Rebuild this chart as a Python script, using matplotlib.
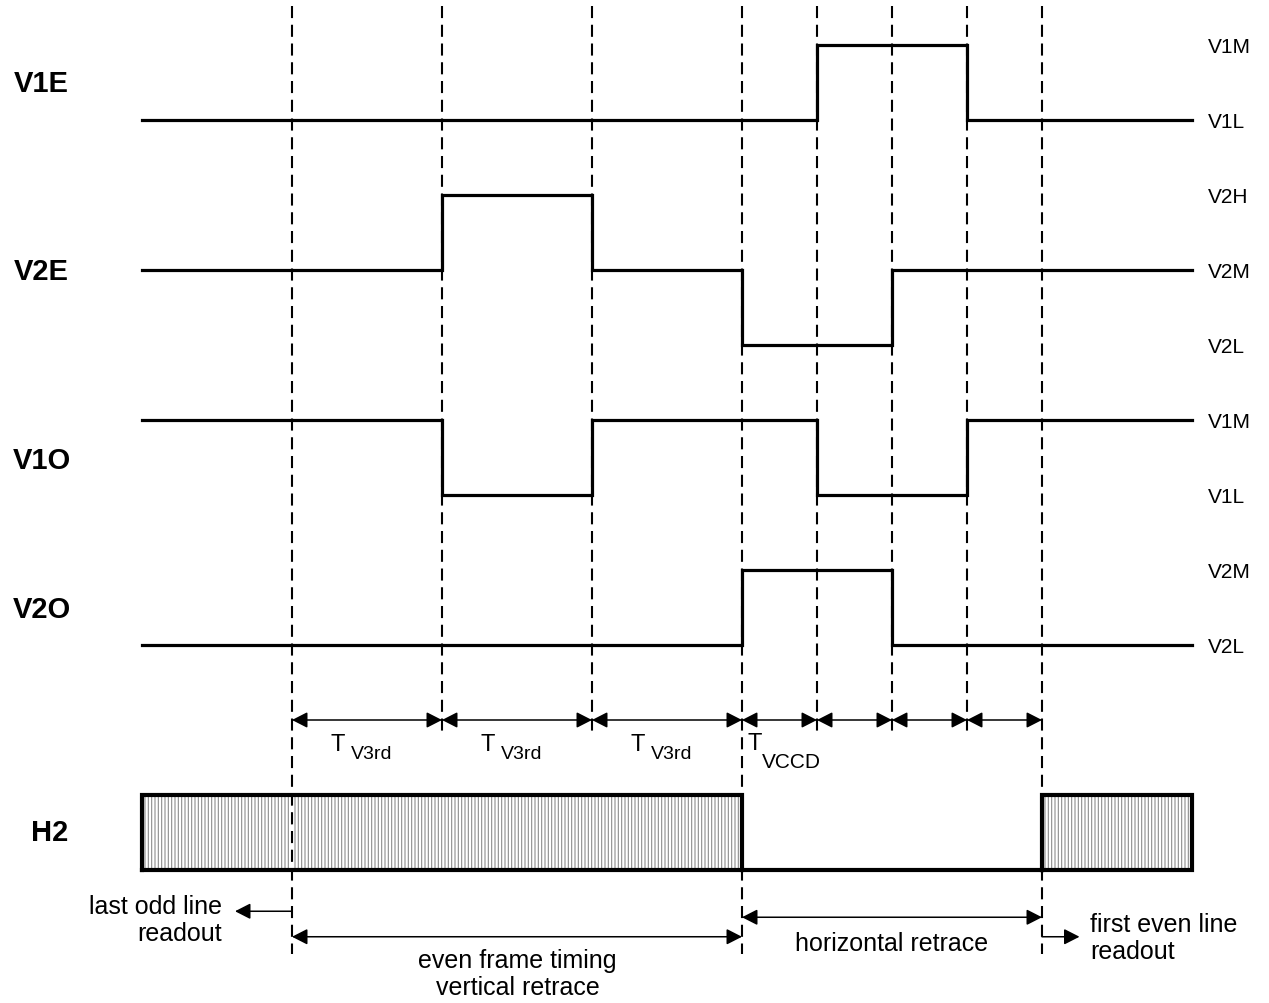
import matplotlib.pyplot as plt
from matplotlib.patches import Rectangle

plt.rcParams["font.family"] = ["Liberation Sans", "DejaVu Sans"]
plt.rcParams["hatch.linewidth"] = 0.8
plt.rcParams["hatch.color"] = "#8c8c8c"

# Time axis: one unit = T_VCCD, T_V3rd = 2 units; edges of the retrace sequence
edges = [0, 2, 4, 6, 7, 8, 9, 10]
long_edges = [0, 6, 10]          # marks that run down through the H2 row
t_start, t_end = -2, 12

# Voltage levels as row indices (top to bottom)
level_names = ["V1M", "V1L", "V2H", "V2M", "V2L", "V1M", "V1L", "V2M", "V2L"]

# Waveforms: breakpoints and the level held between them
v1e_t = [-2, 7, 9, 12]
v1e_v = [1, 0, 1]
v2e_t = [-2, 2, 4, 6, 8, 12]
v2e_v = [3, 2, 3, 4, 3]
v1o_t = [-2, 2, 4, 7, 9, 12]
v1o_v = [5, 6, 5, 6, 5]
v2o_t = [-2, 6, 8, 12]
v2o_v = [8, 7, 8]

signals = [("V1E", v1e_t, v1e_v, 0.51), ("V2E", v2e_t, v2e_v, 3.02),
           ("V1O", v1o_t, v1o_v, 5.53), ("V2O", v2o_t, v2o_v, 7.52)]

# H2 clock: active (hatched) intervals and idle interval
h2_active = [(-2, 6), (10, 12)]
h2_idle = (6, 10)
h2_top, h2_bottom = 10.0, 11.0

period_labels = [("T", "V3rd"), ("T", "V3rd"), ("T", "V3rd"), ("T", "VCCD")]

fig = plt.figure(figsize=(12.69, 10.04), dpi=100)
ax = fig.add_axes([0, 0, 1, 1])
ax.set_xlim(-292 / 75, (1269 - 292) / 75)
ax.set_ylim((1004 - 46) / 75, -46 / 75)
ax.axis("off")

# dashed timing marks
for t in edges:
    bottom = 12.12 if t in long_edges else 9.15
    ax.plot([t, t], [-0.52, bottom], color="black", lw=1.5,
            dashes=(5.8, 3.2), gapcolor="white", zorder=2.5)

# waveforms
for name, ts, vs, ylab in signals:
    xs, ys = [], []
    for i, v in enumerate(vs):
        xs += [ts[i], ts[i + 1]]
        ys += [v, v]
    ax.plot(xs, ys, color="black", lw=2.3, solid_joinstyle="miter", zorder=3)
    ax.text(-3.34, ylab, name, ha="center", va="center", fontsize=21,
            fontweight="bold")

for k, name in enumerate(level_names):
    ax.text(12.21, k + 0.02, name, ha="left", va="center", fontsize=15)

# H2 hatched blocks
for a, b in h2_active:
    ax.add_patch(Rectangle((a, h2_top), b - a, h2_bottom - h2_top,
                           facecolor="white", edgecolor="#8c8c8c",
                           hatch="|||||", lw=0, zorder=2))
    ax.plot([a, a, b, b, a], [h2_bottom, h2_top, h2_top, h2_bottom, h2_bottom],
            color="black", lw=3, solid_joinstyle="miter", zorder=3)
ax.plot(list(h2_idle), [h2_bottom, h2_bottom], color="black", lw=3, zorder=3)
ax.text(-3.23, 10.49, "H2", ha="center", va="center", fontsize=21,
        fontweight="bold")

arrow = dict(arrowstyle="<|-|>,head_length=0.47,head_width=0.24",
             color="black", lw=1.1, mutation_scale=20, shrinkA=0, shrinkB=0)
one_way = dict(arrowstyle="-|>,head_length=0.47,head_width=0.24",
               color="black", lw=1.1, mutation_scale=20, shrinkA=0, shrinkB=0)

# period arrows
for a, b in zip(edges[:-1], edges[1:]):
    ax.annotate("", xy=(b, 9.0), xytext=(a, 9.0), arrowprops=arrow)
for a, (big, sub) in zip(edges, period_labels):
    if sub == "VCCD":
        ax.text(a + 0.07, 9.3, big, ha="left", va="center", fontsize=17)
        ax.text(a + 0.26, 9.56, sub, ha="left", va="center", fontsize=15)
    else:
        ax.text(a + 0.51, 9.32, big, ha="left", va="center", fontsize=17)
        ax.text(a + 0.79, 9.45, sub, ha="left", va="center", fontsize=14)

# bottom annotations
ax.annotate("", xy=(-0.76, 11.55), xytext=(0, 11.55), arrowprops=one_way)
ax.text(-0.93, 11.66, "last odd line\nreadout", ha="right", va="center",
        multialignment="right", fontsize=18, linespacing=1.15)

ax.annotate("", xy=(6, 11.89), xytext=(0, 11.89), arrowprops=arrow)
ax.text(3.01, 12.38, "even frame timing\nvertical retrace", ha="center",
        va="center", fontsize=18, linespacing=1.15)

ax.annotate("", xy=(10, 11.63), xytext=(6, 11.63), arrowprops=arrow)
ax.text(8.0, 11.97, "horizontal retrace", ha="center", va="center",
        fontsize=18)

ax.annotate("", xy=(10.5, 11.89), xytext=(10, 11.89), arrowprops=one_way)
ax.text(10.64, 11.9, "first even line\nreadout", ha="left", va="center",
        fontsize=18, linespacing=1.15)

fig.savefig("out.png", dpi=100)
